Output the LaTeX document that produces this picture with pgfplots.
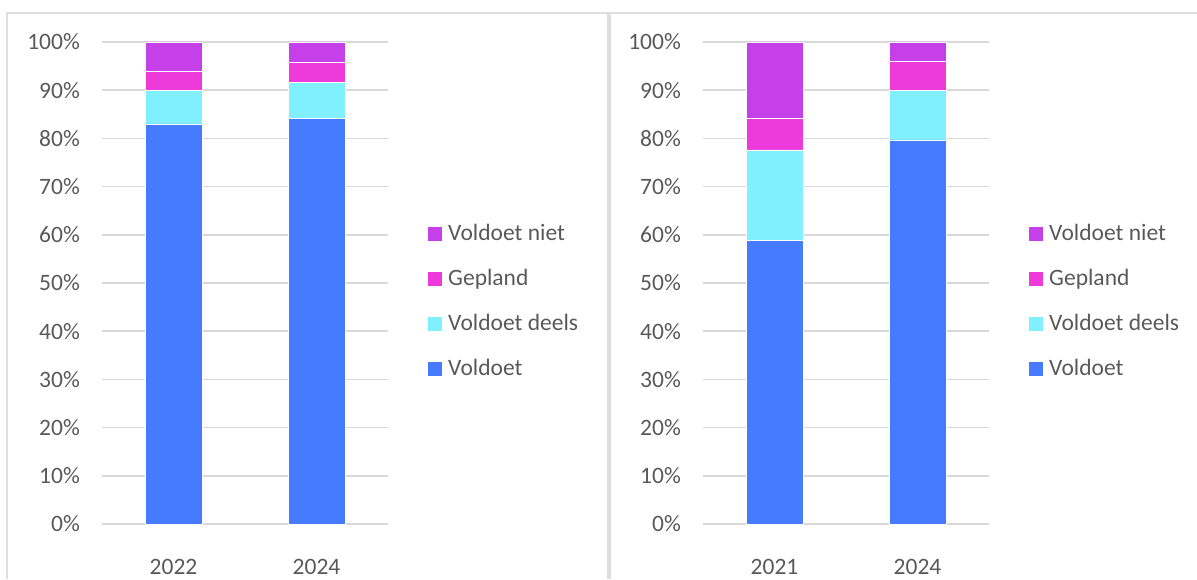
\documentclass[border=0pt]{standalone}
\usepackage{pgfplots}
\pgfplotsset{compat=1.18}
\usepackage{pgfplotstable}
\usepackage{fontspec}
\setmainfont{Carlito}
\definecolor{cVol}{RGB}{70,122,255}
\definecolor{cDeel}{RGB}{128,240,255}
\definecolor{cGep}{RGB}{238,58,218}
\definecolor{cNiet}{RGB}{198,64,234}
\definecolor{txt}{RGB}{89,89,89}
\definecolor{grd}{RGB}{217,217,217}
\definecolor{frm}{RGB}{222,222,222}

\pgfplotstableread{
x Voldoet Deels Gepland Niet
0 83.0 7.0 4.0 6.0
1 84.2 7.4 4.2 4.2
}\leftdata
\pgfplotstableread{
x Voldoet Deels Gepland Niet
0 58.9 18.7 6.6 15.8
1 79.7 10.3 6.0 4.0
}\rightdata

\newcommand{\fs}{\fontsize{23.5}{28}\selectfont}

\pgfplotsset{
  mybar/.style={
    scale only axis, width=286pt, height=482pt,
    ybar stacked, bar width=57pt,
    ymin=0, ymax=100, ytick={0,10,...,100},
    xmin=-0.5, xmax=1.5, xtick={0,1},
    axis x line*=bottom, axis y line*=left,
    y axis line style={draw=none},
    x axis line style={grd, line width=2pt},
    major tick length=0pt,
    ymajorgrids, grid style={grd, line width=1.5pt},
    /pgf/number format/assume math mode=true,
    yticklabel={\pgfmathprintnumber{\tick}\%},
    yticklabel style={font=\fs, text=txt, inner sep=0pt, anchor=east, xshift=-22pt},
    xticklabel style={font=\fs, text=txt, inner sep=0pt, anchor=north, yshift=-35pt},
    reverse legend,
    legend cell align=left,
    legend image code/.code={\fill[##1, draw=none] (0pt,-5.5pt) rectangle (14pt,8.5pt);},
    legend style={draw=none, fill=none, font=\fs, text=txt, inner sep=0pt,
      at={(axis description cs:1.14,0.459)}, anchor=west,
      row sep=24pt, column sep=6pt,
      nodes={inner sep=0pt, text height=16pt, text depth=5pt}},
    every axis plot/.append style={draw=white, line width=0.4pt},
  }
}

\begin{document}
\begin{tikzpicture}
\begin{axis}[mybar, at={(102pt,55pt)}, anchor=south west, xticklabels={2022,2024}]
  \addplot[fill=cVol] table[x=x, y=Voldoet] {\leftdata};
  \addplot[fill=cDeel] table[x=x, y=Deels] {\leftdata};
  \addplot[fill=cGep] table[x=x, y=Gepland] {\leftdata};
  \addplot[fill=cNiet] table[x=x, y=Niet] {\leftdata};
  \legend{Voldoet, Voldoet deels, Gepland, Voldoet niet}
\end{axis}
\begin{axis}[mybar, at={(703pt,55pt)}, anchor=south west, xticklabels={2021,2024}]
  \addplot[fill=cVol] table[x=x, y=Voldoet] {\rightdata};
  \addplot[fill=cDeel] table[x=x, y=Deels] {\rightdata};
  \addplot[fill=cGep] table[x=x, y=Gepland] {\rightdata};
  \addplot[fill=cNiet] table[x=x, y=Niet] {\rightdata};
  \legend{Voldoet, Voldoet deels, Gepland, Voldoet niet}
\end{axis}
\draw[frm, line width=2pt] (7pt,0pt) -- (7pt,566pt) -- (1197pt,566pt);
\draw[frm, line width=4pt] (609pt,0pt) -- (609pt,566pt);
\pgfresetboundingbox
\path[use as bounding box] (0pt,0pt) rectangle (1197pt,579pt);
\end{tikzpicture}
\end{document}
